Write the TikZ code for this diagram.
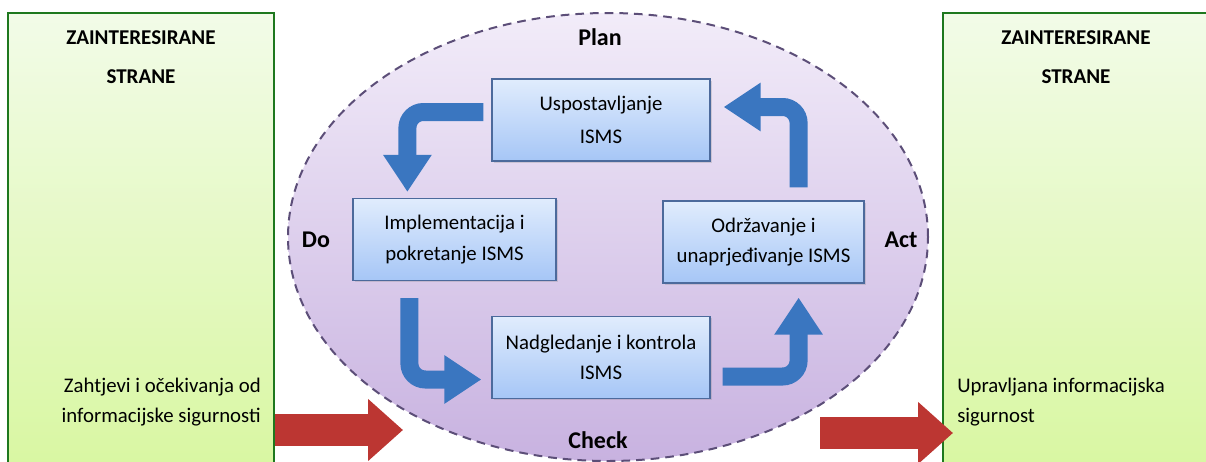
\documentclass[tikz,border=0pt]{standalone}
\usepackage{fontspec}
\setmainfont{Carlito}
\usetikzlibrary{arrows.meta}
\usetikzlibrary{calc}
\usetikzlibrary{shapes}
\usetikzlibrary{shadows}

\definecolor{sidegreen}{RGB}{30,120,30}
\definecolor{sidetop}{RGB}{242,251,232}
\definecolor{sidebottom}{RGB}{216,247,160}
\definecolor{cycleline}{RGB}{92,78,120}
\definecolor{cycletop}{RGB}{242,236,249}
\definecolor{cyclebottom}{RGB}{200,178,224}
\definecolor{boxline}{RGB}{76,106,156}
\definecolor{boxtop}{RGB}{224,236,253}
\definecolor{boxbottom}{RGB}{166,198,246}
\definecolor{arrowblue}{RGB}{58,118,192}
\definecolor{arrowred}{RGB}{188,54,50}

\begin{document}
\begin{tikzpicture}[x=0.75pt, y=-0.75pt,
        side_style/.style={draw=sidegreen, line width=1.5pt, top color=sidetop, bottom color=sidebottom, minimum width=199.5pt, minimum height=350pt, inner sep=0pt},
        cycle_style/.style={ellipse, draw=cycleline, line width=1.5pt, dash pattern=on 6.5pt off 4.5pt, top color=cycletop, bottom color=cyclebottom, minimum width=480pt, minimum height=336pt, inner sep=0pt},
        box_style/.style={draw=boxline, line width=0.9pt, top color=boxtop, bottom color=boxbottom, minimum height=61.5pt, inner sep=0pt, align=center, font=\fontsize{15.6}{23}\selectfont, drop shadow={shadow xshift=1.2pt, shadow yshift=-1.2pt, opacity=0.25}},
        phase_style/.style={font=\fontsize{18}{20}\selectfont\bfseries},
        head_style/.style={align=center, font=\fontsize{15.8}{29.25}\selectfont\bfseries},
        body_style/.style={font=\fontsize{15.6}{22.5}\selectfont, inner sep=0pt},
        cycle_edge/.style={draw=arrowblue, line width=13.5pt, rounded corners=12pt, -{Triangle[length=27.75pt, width=34.5pt]}},
        io_edge/.style={draw=arrowred, line width=24pt, -{Triangle[length=26.25pt, width=45pt]}}]

        \useasboundingbox (0,0) rectangle (1206,461);
        \clip (0,0) rectangle (1206,461);

        % stakeholders
        \node [side_style](left) at (141,246.5) {};
        \node [side_style](right) at (1076,246.5) {};
        \node [head_style](left_head) at (141,57.5) {ZAINTERESIRANE\\STRANE};
        \node [head_style](right_head) at (1076,57.5) {ZAINTERESIRANE\\STRANE};
        \node [body_style, align=right, anchor=east](left_text) at (261,402) {Zahtjevi i očekivanja od\\informacijske sigurnosti};
        \node [body_style, align=left, anchor=west](right_text) at (957,402) {Upravljana informacijska\\sigurnost};

        % PDCA cycle
        \node [cycle_style](cycle) at (608,237) {};
        \node [phase_style](plan_lbl) at (600,37) {Plan};
        \node [phase_style](do_lbl) at (316,240) {Do};
        \node [phase_style](act_lbl) at (901,240) {Act};
        \node [phase_style](check_lbl) at (598,440) {Check};

        \node [box_style, minimum width=163.5pt](plan) at (601,120) {Uspostavljanje\\[2pt]ISMS};
        \node [box_style, minimum width=152.25pt](do) at (454.5,239.5) {Implementacija i\\pokretanje ISMS};
        \node [box_style, minimum width=150.75pt](act) at (763.5,242) {Održavanje i\\unaprjeđivanje ISMS};
        \node [box_style, minimum width=163.5pt](check) at (601,357.5) {Nadgledanje i kontrola\\ISMS};

        \draw [cycle_edge] ($(plan.west)+(-8,-8)$) -| ($(do.north west)+(55,-6)$);
        \draw [cycle_edge] ($(do.south west)+(57,17)$) |- ($(check.west)+(-10,22)$);
        \draw [cycle_edge] ($(check.east)+(12,19)$) -| ($(act.south east)+(-66,14)$);
        \draw [cycle_edge] ($(act.north east)+(-66,-13)$) |- ($(plan.east)+(13,-13)$);

        % input and output
        \coordinate (in_tip) at (403,430);
        \coordinate (out_tail) at (820,433);
        \draw [io_edge] (left.east |- in_tip) -- (in_tip);
        \draw [io_edge] (out_tail) -- ($(right.west |- out_tail)+(11,0)$);
\end{tikzpicture}
\end{document}
